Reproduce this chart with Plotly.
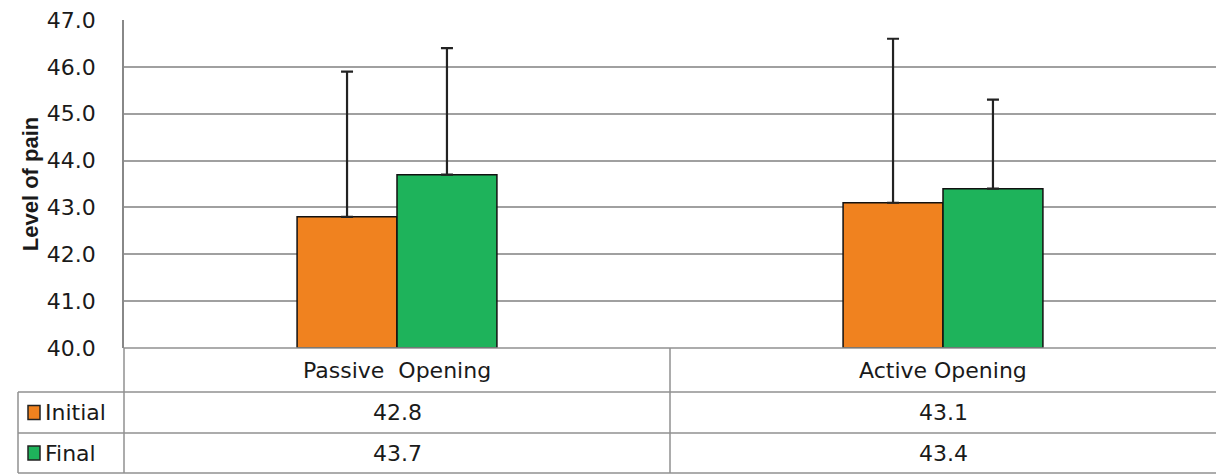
import plotly.graph_objects as go

categories = ["Passive  Opening", "Active Opening"]
series_names = ["Initial", "Final"]
initial_values = [42.8, 43.1]
final_values = [43.7, 43.4]
initial_err = [3.1, 3.5]
final_err = [2.7, 1.9]
y_ticks = [40, 41, 42, 43, 44, 45, 46, 47]

orange = "#F0821F"
green = "#1EB35B"
font_family = "DejaVu Sans, Liberation Sans, Arial, sans-serif"
title_family = "Liberation Sans, Arial, sans-serif"
txt = "#1a1a1a"

fig = go.Figure()
for name, vals, errs, col in [("Initial", initial_values, initial_err, orange),
                              ("Final", final_values, final_err, green)]:
    fig.add_trace(go.Bar(
        x=categories, y=[v - 40 for v in vals], base=40, name=name,
        marker=dict(color=col, line=dict(color="#111", width=1.5)),
        error_y=dict(type="data", array=errs, arrayminus=[0] * len(errs), symmetric=False,
                     color="#222", thickness=2.2, width=6),
    ))

grid = "#a0a0a0"
fig.update_layout(
    width=1216, height=474,
    margin=dict(l=124, r=0, t=20, b=126),
    paper_bgcolor="white", plot_bgcolor="white",
    barmode="group", bargap=0.634, bargroupgap=0,
    showlegend=False,
    font=dict(family=font_family, color=txt),
)
fig.update_xaxes(showticklabels=False, showgrid=False, showline=False, zeroline=False)
fig.update_yaxes(
    range=[40, 47], tickvals=y_ticks, ticktext=[f"{t:.1f}" for t in y_ticks],
    showgrid=True, gridcolor=grid, gridwidth=1.5, zeroline=False,
    showline=True, linecolor="#888", linewidth=1.5,
    tickfont=dict(size=22, color=txt), ticklabelstandoff=22,
    title=dict(text="<b>Level of pain</b>", font=dict(size=22, color=txt, family=title_family), standoff=2),
)

# data table
ph = 328.0
pw = 1092.0
def py(p):
    return (348 - p) / ph
def pxp(p):
    return (p - 124) / pw

line = dict(color="#909090", width=1.5)
row_tops = [348, 392, 433, 473]
fig.add_shape(type="line", xref="paper", yref="paper", x0=0, x1=1, y0=py(348), y1=py(348), line=line)
for r in row_tops[1:]:
    fig.add_shape(type="line", xref="paper", yref="paper", x0=pxp(18), x1=1, y0=py(r), y1=py(r), line=line)
fig.add_shape(type="line", xref="paper", yref="paper", x0=0, x1=0, y0=py(348), y1=py(473), line=line)
fig.add_shape(type="line", xref="paper", yref="paper", x0=0.5, x1=0.5, y0=py(348), y1=py(473), line=line)
fig.add_shape(type="line", xref="paper", yref="paper", x0=pxp(18), x1=pxp(18), y0=py(392), y1=py(473), line=line)

for c in categories:
    fig.add_annotation(x=c, xref="x", y=py((348 + 392) / 2), yref="paper", text=c.replace("  ", "&nbsp; "),
                       showarrow=False, font=dict(size=22, color=txt), xanchor="center", yanchor="middle")

rows = [(series_names[0], initial_values, orange), (series_names[1], final_values, green)]
for i, (name, vals, col) in enumerate(rows):
    top, bot = row_tops[i + 1], row_tops[i + 2]
    mid = (top + bot) / 2
    fig.add_shape(type="rect", xref="paper", yref="paper", x0=pxp(28), x1=pxp(40),
                  y0=py(mid - 7), y1=py(mid + 7), fillcolor=col, line=dict(color="#222", width=1.5))
    fig.add_annotation(x=pxp(43), xref="paper", y=py(mid), yref="paper", text=name, showarrow=False,
                       font=dict(size=22, color=txt), xanchor="left", yanchor="middle")
    for c, v in zip(categories, vals):
        fig.add_annotation(x=c, xref="x", y=py(mid), yref="paper", text=f"{v:.1f}", showarrow=False,
                           font=dict(size=22, color=txt), xanchor="center", yanchor="middle")

fig.write_html("out.html", config={"displayModeBar": False},
               post_script="document.body.style.margin='0';document.body.style.overflow='hidden';")
